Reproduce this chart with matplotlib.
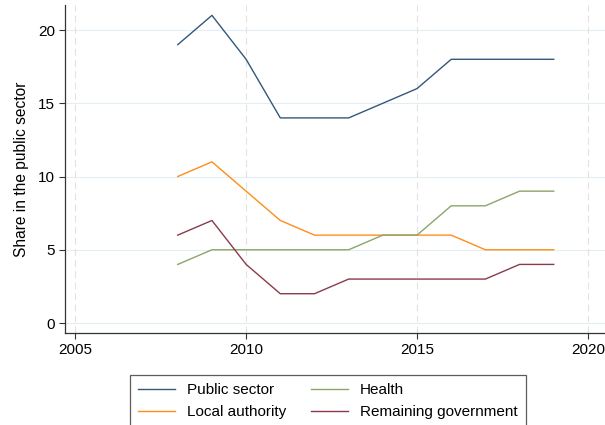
import matplotlib.pyplot as plt
import numpy as np

plt.rcParams['font.family'] = ['Liberation Sans', 'DejaVu Sans']

years = np.arange(2008, 2020)
public_sector = [19, 21, 18, 14, 14, 14, 15, 16, 18, 18, 18, 18]
local_authority = [10, 11, 9, 7, 6, 6, 6, 6, 6, 5, 5, 5]
health = [4, 5, 5, 5, 5, 5, 6, 6, 8, 8, 9, 9]
remaining_gov = [6, 7, 4, 2, 2, 3, 3, 3, 3, 3, 4, 4]

fig = plt.figure(figsize=(6.05, 4.25), dpi=100)
ax = fig.add_axes([0.1074, 0.2165, 0.8926, 0.7715])

lw = 1.0
ax.plot(years, public_sector, color='#34577a', lw=lw, label='Public sector')
ax.plot(years, local_authority, color='#ff8c1a', lw=lw, label='Local authority')
ax.plot(years, health, color='#8aa66a', lw=lw, label='Health')
ax.plot(years, remaining_gov, color='#8b3a4a', lw=lw, label='Remaining government')

ax.set_xlim(2004.7, 2020.5)
ax.set_ylim(-0.68, 21.7)
ax.set_xticks([2005, 2010, 2015, 2020])
ax.set_yticks([0, 5, 10, 15, 20])

# stata-like grid: pale horizontal lines, dashed vertical ones
for y in [0, 5, 10, 15, 20]:
    ax.axhline(y, color='#e4edf6', lw=0.8, zorder=0)
for x in [2005, 2010, 2015, 2020]:
    ax.axvline(x, color='#e2e2e2', lw=0.8, ls=(0, (6, 4)), zorder=0)

ax.spines['top'].set_visible(False)
ax.spines['right'].set_visible(False)
for s in ['left', 'bottom']:
    ax.spines[s].set_color('#333333')
    ax.spines[s].set_linewidth(0.9)
ax.tick_params(direction='out', length=4, width=0.8, colors='#333333',
               labelcolor='black', labelsize=11, pad=3)
ax.set_ylabel('Share in the public sector', fontsize=11.2, labelpad=7)

leg = ax.legend(ncol=2, loc='upper left',
                bbox_to_anchor=(130 / 605, 50 / 425),
                bbox_transform=fig.transFigure, fontsize=11,
                frameon=True, fancybox=False, handlelength=2.4,
                handletextpad=0.8, borderpad=0.55, borderaxespad=0,
                labelspacing=0.5, columnspacing=1.6)
leg.get_frame().set_edgecolor('#333333')
leg.get_frame().set_linewidth(0.9)

fig.savefig('out.png', dpi=100)
